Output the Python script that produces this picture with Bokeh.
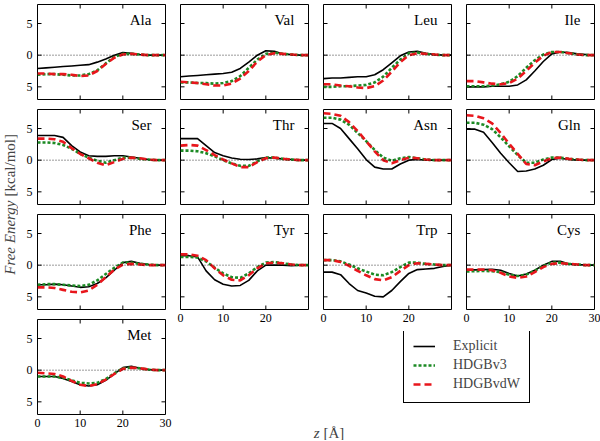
import numpy as np
from bokeh.plotting import figure
from bokeh.layouts import row, column
from bokeh.models import Range1d, FixedTicker, Span, Label, Legend, LegendItem
from bokeh.core.properties import value
from bokeh.embed import file_html
from bokeh.resources import INLINE

# ---------------- data ----------------
z = [0, 2, 4, 6, 8, 10, 12, 14, 16, 18, 20, 22, 24, 26, 28, 30]

ala_explicit = [-2.1, -2.0, -1.9, -1.8, -1.7, -1.6, -1.5, -1.1, -0.6, 0.0, 0.4, 0.3, 0.1, 0.0, 0.0, 0.0]
ala_v3 = [-3.1, -3.0, -3.0, -3.1, -3.2, -3.2, -3.0, -2.4, -1.3, -0.3, 0.2, 0.2, 0.1, 0.0, 0.0, 0.0]
ala_vdw = [-2.9, -2.9, -3.0, -3.0, -3.1, -3.3, -3.2, -2.5, -1.4, -0.4, 0.1, 0.2, 0.1, 0.0, 0.0, 0.0]

val_explicit = [-3.4, -3.3, -3.2, -3.1, -3.0, -2.9, -2.7, -2.1, -1.1, 0.0, 0.7, 0.6, 0.2, 0.1, 0.0, 0.0]
val_v3 = [-4.3, -4.3, -4.4, -4.4, -4.5, -4.4, -4.1, -3.3, -2.0, -0.7, 0.2, 0.4, 0.2, 0.1, 0.0, 0.0]
val_vdw = [-4.2, -4.3, -4.4, -4.6, -4.8, -4.8, -4.5, -3.7, -2.5, -1.0, 0.0, 0.3, 0.2, 0.1, 0.0, 0.0]

leu_explicit = [-3.7, -3.6, -3.6, -3.5, -3.4, -3.4, -3.1, -2.3, -1.2, -0.1, 0.5, 0.6, 0.3, 0.1, 0.0, 0.0]
leu_v3 = [-5.0, -5.0, -4.9, -4.9, -4.8, -4.7, -4.3, -3.4, -2.0, -0.7, 0.3, 0.4, 0.2, 0.1, 0.0, 0.0]
leu_vdw = [-4.6, -4.6, -4.8, -4.9, -5.1, -5.2, -4.9, -4.0, -2.6, -1.1, 0.0, 0.3, 0.2, 0.1, 0.0, 0.0]

ile_explicit = [-5.0, -5.0, -5.0, -4.9, -4.9, -4.9, -4.7, -3.9, -2.5, -1.0, 0.2, 0.5, 0.4, 0.2, 0.1, 0.0]
ile_v3 = [-4.9, -4.9, -4.9, -4.8, -4.6, -4.2, -3.3, -2.0, -0.8, 0.1, 0.5, 0.5, 0.3, 0.1, 0.0, 0.0]
ile_vdw = [-4.1, -4.1, -4.3, -4.5, -4.6, -4.4, -3.7, -2.5, -1.2, -0.1, 0.5, 0.5, 0.3, 0.1, 0.0, 0.0]

ser_explicit = [3.9, 3.9, 3.9, 3.6, 2.3, 1.3, 0.7, 0.6, 0.6, 0.7, 0.7, 0.5, 0.3, 0.1, 0.0, 0.0]
ser_v3 = [2.8, 2.8, 2.7, 2.4, 1.8, 1.0, 0.4, -0.1, -0.4, 0.0, 0.4, 0.4, 0.2, 0.1, 0.0, 0.0]
ser_vdw = [3.4, 3.4, 3.3, 2.9, 1.9, 1.0, 0.3, -0.4, -0.8, -0.3, 0.2, 0.4, 0.3, 0.1, 0.0, 0.0]

thr_explicit = [3.4, 3.4, 3.4, 2.3, 1.2, 0.7, 0.35, 0.15, 0.1, 0.2, 0.4, 0.3, 0.2, 0.1, 0.0, 0.0]
thr_v3 = [1.5, 1.5, 1.4, 1.1, 0.6, 0.0, -0.5, -0.9, -0.9, -0.2, 0.4, 0.4, 0.2, 0.1, 0.0, 0.0]
thr_vdw = [2.3, 2.4, 2.3, 1.6, 0.8, 0.1, -0.5, -1.1, -1.1, -0.3, 0.3, 0.4, 0.2, 0.1, 0.0, 0.0]

asn_explicit = [5.8, 5.8, 5.0, 3.4, 1.8, 0.1, -1.1, -1.4, -1.4, -0.6, 0.0, 0.1, 0.0, 0.0, 0.0, 0.0]
asn_v3 = [6.7, 6.7, 6.4, 5.6, 4.3, 3.0, 1.6, 0.4, -0.1, 0.3, 0.5, 0.3, 0.1, 0.0, 0.0, 0.0]
asn_vdw = [7.4, 7.3, 7.0, 6.0, 4.6, 3.0, 1.4, 0.0, -0.5, 0.0, 0.4, 0.3, 0.1, 0.0, 0.0, 0.0]

gln_explicit = [4.9, 4.9, 4.4, 2.8, 1.1, -0.4, -1.8, -1.7, -1.4, -0.8, 0.1, 0.3, 0.1, 0.0, 0.0, 0.0]
gln_v3 = [5.9, 5.9, 5.6, 4.9, 3.6, 2.2, 0.8, -0.4, -0.4, 0.1, 0.4, 0.4, 0.2, 0.1, 0.0, 0.0]
gln_vdw = [7.1, 7.0, 6.6, 5.8, 4.3, 2.6, 1.0, -0.6, -0.8, -0.2, 0.3, 0.4, 0.2, 0.1, 0.0, 0.0]

phe_explicit = [-3.1, -3.1, -3.0, -3.1, -3.3, -3.5, -3.4, -2.9, -2.0, -0.8, 0.4, 0.6, 0.3, 0.1, 0.0, 0.0]
phe_v3 = [-3.1, -3.0, -3.0, -3.1, -3.2, -3.3, -3.1, -2.4, -1.4, -0.4, 0.4, 0.4, 0.2, 0.1, 0.0, 0.0]
phe_vdw = [-3.5, -3.5, -3.6, -3.9, -4.2, -4.3, -4.0, -3.1, -1.9, -0.7, 0.1, 0.2, 0.1, 0.0, 0.0, 0.0]

tyr_explicit = [1.5, 1.5, 1.3, -0.9, -2.3, -3.0, -3.3, -3.2, -2.4, -0.9, 0.0, 0.0, 0.0, -0.1, 0.0, 0.0]
tyr_v3 = [1.3, 1.3, 1.2, 0.6, -0.4, -1.3, -1.9, -2.0, -1.3, -0.3, 0.4, 0.5, 0.3, 0.1, 0.0, 0.0]
tyr_vdw = [1.7, 1.7, 1.5, 0.8, -0.5, -1.6, -2.3, -2.4, -1.6, -0.5, 0.3, 0.4, 0.3, 0.1, 0.0, 0.0]

trp_explicit = [-1.1, -1.1, -1.5, -2.9, -4.0, -4.4, -4.9, -5.0, -4.0, -2.6, -1.3, -0.7, -0.6, -0.5, -0.2, 0.0]
trp_v3 = [0.8, 0.8, 0.6, 0.1, -0.5, -1.0, -1.5, -1.6, -1.1, -0.3, 0.4, 0.4, 0.2, 0.1, 0.0, 0.0]
trp_vdw = [0.8, 0.8, 0.5, -0.1, -0.9, -1.6, -2.2, -2.4, -1.9, -0.9, 0.0, 0.3, 0.2, 0.1, 0.0, 0.0]

cys_explicit = [-0.8, -0.75, -0.7, -0.65, -0.8, -1.3, -1.7, -1.4, -0.8, 0.0, 0.6, 0.6, 0.2, 0.1, 0.0, 0.0]
cys_v3 = [-1.0, -0.95, -0.9, -0.95, -1.1, -1.5, -1.7, -1.5, -0.9, -0.1, 0.4, 0.4, 0.2, 0.1, 0.0, 0.0]
cys_vdw = [-0.7, -0.7, -0.7, -0.8, -1.2, -1.8, -2.0, -1.8, -1.1, -0.3, 0.2, 0.3, 0.2, 0.1, 0.0, 0.0]

met_explicit = [-1.0, -1.0, -1.0, -1.3, -1.8, -2.3, -2.5, -2.3, -1.6, -0.6, 0.4, 0.6, 0.3, 0.1, 0.0, 0.0]
met_v3 = [-1.0, -1.0, -1.0, -1.2, -1.6, -2.0, -2.1, -2.0, -1.4, -0.5, 0.3, 0.4, 0.3, 0.1, 0.0, 0.0]
met_vdw = [-0.4, -0.5, -0.6, -1.0, -1.7, -2.3, -2.5, -2.2, -1.5, -0.6, 0.2, 0.4, 0.3, 0.1, 0.0, 0.0]

x_ticks = [0, 10, 20, 30]
x_ticks_short = [0, 10, 20]
y_ticks = [-5, 0, 5]
y_tick_labels = {-5: "5", 0: "0", 5: "5"}
series_names = ["Explicit", "HDGBv3", "HDGBvdW"]
X_MIN, X_MAX = 0, 30
Y_MIN, Y_MAX = -7, 8

# ---------------- style ----------------
FONT = "Liberation Serif"
C_EXP = "#000000"
C_V3 = "#1c8a24"
C_VDW = "#e8161c"
FW, FH = 128, 95
TOP = 4
TICK = 4


def label_axis(ax, ticks, standoff, overrides=None):
    ax.ticker = FixedTicker(ticks=ticks)
    ax.axis_line_color = None
    ax.major_tick_line_color = None
    ax.major_tick_in = 0
    ax.major_tick_out = 0
    ax.minor_tick_line_color = None
    ax.major_label_text_font = FONT
    ax.major_label_text_font_size = "12px"
    ax.major_label_text_font_style = "normal"
    ax.major_label_text_color = "black"
    ax.major_label_standoff = standoff
    if overrides:
        ax.major_label_overrides = overrides


def panel(name, exp, v3, vdw, left, right, bottom, ylab=False, xlab=None):
    p = figure(width=left + FW + right, height=TOP + FH + bottom,
               x_range=Range1d(X_MIN, X_MAX), y_range=Range1d(Y_MIN, Y_MAX),
               output_backend="svg", toolbar_location=None,
               x_axis_location="below" if xlab else None,
               y_axis_location="left" if ylab else None,
               min_border_left=left, min_border_right=right,
               min_border_top=TOP, min_border_bottom=bottom)
    p.grid.visible = False
    p.outline_line_color = "black"
    p.outline_line_width = 1
    p.outline_line_alpha = 1
    p.background_fill_color = "white"
    p.border_fill_color = "white"
    if xlab:
        label_axis(p.xaxis[0], xlab, 4)
    if ylab:
        label_axis(p.yaxis[0], y_ticks, 5, y_tick_labels)

    # inward tick marks on all four sides
    n_x, n_y = len(x_ticks), len(y_ticks)
    p.ray(x=x_ticks, y=[Y_MIN] * n_x, length=TICK, length_units="screen",
          angle=np.pi / 2, line_color="black", line_width=1)
    p.ray(x=x_ticks, y=[Y_MAX] * n_x, length=TICK, length_units="screen",
          angle=-np.pi / 2, line_color="black", line_width=1)
    p.ray(x=[X_MIN] * n_y, y=y_ticks, length=TICK, length_units="screen",
          angle=0, line_color="black", line_width=1)
    p.ray(x=[X_MAX] * n_y, y=y_ticks, length=TICK, length_units="screen",
          angle=np.pi, line_color="black", line_width=1)

    p.add_layout(Span(location=0, dimension="width", line_color="black",
                      line_width=0.8, line_dash="1 2"))
    p.line(z, exp, line_color=C_EXP, line_width=1.6)
    p.line(z, v3, line_color=C_V3, line_width=2.6, line_dash="3 2")
    p.line(z, vdw, line_color=C_VDW, line_width=2.6, line_dash="7 4")
    p.text(x=[26.7], y=[5.6], text=[name], text_align="right",
           text_baseline="middle", text_font=value(FONT),
           text_font_size="15px", text_font_style="normal", text_color="black")
    return p


L0, R0 = 19, 7
LK, RK = 8, 7
R3 = 6
B, BX = 6, 22

ala = panel("Ala", ala_explicit, ala_v3, ala_vdw, L0, R0, B, ylab=True)
ser = panel("Ser", ser_explicit, ser_v3, ser_vdw, L0, R0, B, ylab=True)
phe = panel("Phe", phe_explicit, phe_v3, phe_vdw, L0, R0, B, ylab=True)
met = panel("Met", met_explicit, met_v3, met_vdw, L0, R0, BX, ylab=True, xlab=x_ticks)

val = panel("Val", val_explicit, val_v3, val_vdw, LK, RK, B)
thr = panel("Thr", thr_explicit, thr_v3, thr_vdw, LK, RK, B)
tyr = panel("Tyr", tyr_explicit, tyr_v3, tyr_vdw, LK, RK, BX, xlab=x_ticks_short)

leu = panel("Leu", leu_explicit, leu_v3, leu_vdw, LK, RK, B)
asn = panel("Asn", asn_explicit, asn_v3, asn_vdw, LK, RK, B)
trp = panel("Trp", trp_explicit, trp_v3, trp_vdw, LK, RK, BX, xlab=x_ticks_short)

ile = panel("Ile", ile_explicit, ile_v3, ile_vdw, LK, R3, B)
gln = panel("Gln", gln_explicit, gln_v3, gln_vdw, LK, R3, B)
cys = panel("Cys", cys_explicit, cys_v3, cys_vdw, LK, R3, BX, xlab=x_ticks)

col0 = column(ala, ser, phe, met, spacing=0)
col1 = column(val, thr, tyr, spacing=0)
col2 = column(leu, asn, trp, spacing=0)
col3 = column(ile, gln, cys, spacing=0)

TOTAL_H = 440
upper_h = (TOP + FH + B) * 2 + (TOP + FH + BX)
bw = (LK + FW + RK) * 2 + (LK + FW + R3)
bh = TOTAL_H - upper_h

# bottom area: legend + x-axis title
bot = figure(width=bw, height=bh, x_range=Range1d(0, bw), y_range=Range1d(0, bh),
             output_backend="svg", toolbar_location=None, min_border=0,
             x_axis_location=None, y_axis_location=None)
bot.grid.visible = False
bot.outline_line_color = None
bot.background_fill_color = "white"
bot.border_fill_color = "white"
# legend proxies (kept outside the visible area)
r_exp = bot.line([-10, -5], [-10, -10], line_color=C_EXP, line_width=1.6)
r_v3 = bot.line([-10, -5], [-10, -10], line_color=C_V3, line_width=2.6, line_dash="3 2")
r_vdw = bot.line([-10, -5], [-10, -10], line_color=C_VDW, line_width=2.6, line_dash="7 4")
leg = Legend(items=[LegendItem(label=series_names[0], renderers=[r_exp]),
                    LegendItem(label=series_names[1], renderers=[r_v3]),
                    LegendItem(label=series_names[2], renderers=[r_vdw])],
             location=(231, bh - 72), margin=0, padding=9, spacing=1,
             glyph_width=22, glyph_height=18, label_height=18, label_standoff=18,
             label_text_font=FONT, label_text_font_size="14px",
             border_line_color="black", border_line_width=1, border_line_alpha=1,
             background_fill_color="white", background_fill_alpha=1)
bot.add_layout(leg)
bot.add_layout(Label(x=147, y=8, text="z", text_align="right", text_baseline="middle",
                     text_font=FONT, text_font_size="15px", text_font_style="italic"))
bot.add_layout(Label(x=151, y=8, text="[Å]", text_align="left", text_baseline="middle",
                     text_font=FONT, text_font_size="15px", text_font_style="normal"))

# y-axis title
YW = 18
yfig = figure(width=YW, height=TOTAL_H, x_range=Range1d(0, YW), y_range=Range1d(0, TOTAL_H),
              output_backend="svg", toolbar_location=None, min_border=0,
              x_axis_location=None, y_axis_location=None)
yfig.grid.visible = False
yfig.outline_line_color = None
yfig.add_layout(Label(x=9, y=240, text="Free Energy", angle=np.pi / 2, text_align="right",
                      text_baseline="middle", text_font=FONT, text_font_size="15px",
                      text_font_style="italic"))
yfig.add_layout(Label(x=9, y=244, text="[kcal/mol]", angle=np.pi / 2, text_align="left",
                      text_baseline="middle", text_font=FONT, text_font_size="15px",
                      text_font_style="normal"))

right_part = column(row(col1, col2, col3, spacing=0), bot, spacing=0)
layout = row(yfig, col0, right_part, spacing=0)

open("out.html", "w").write(file_html(layout, INLINE))
